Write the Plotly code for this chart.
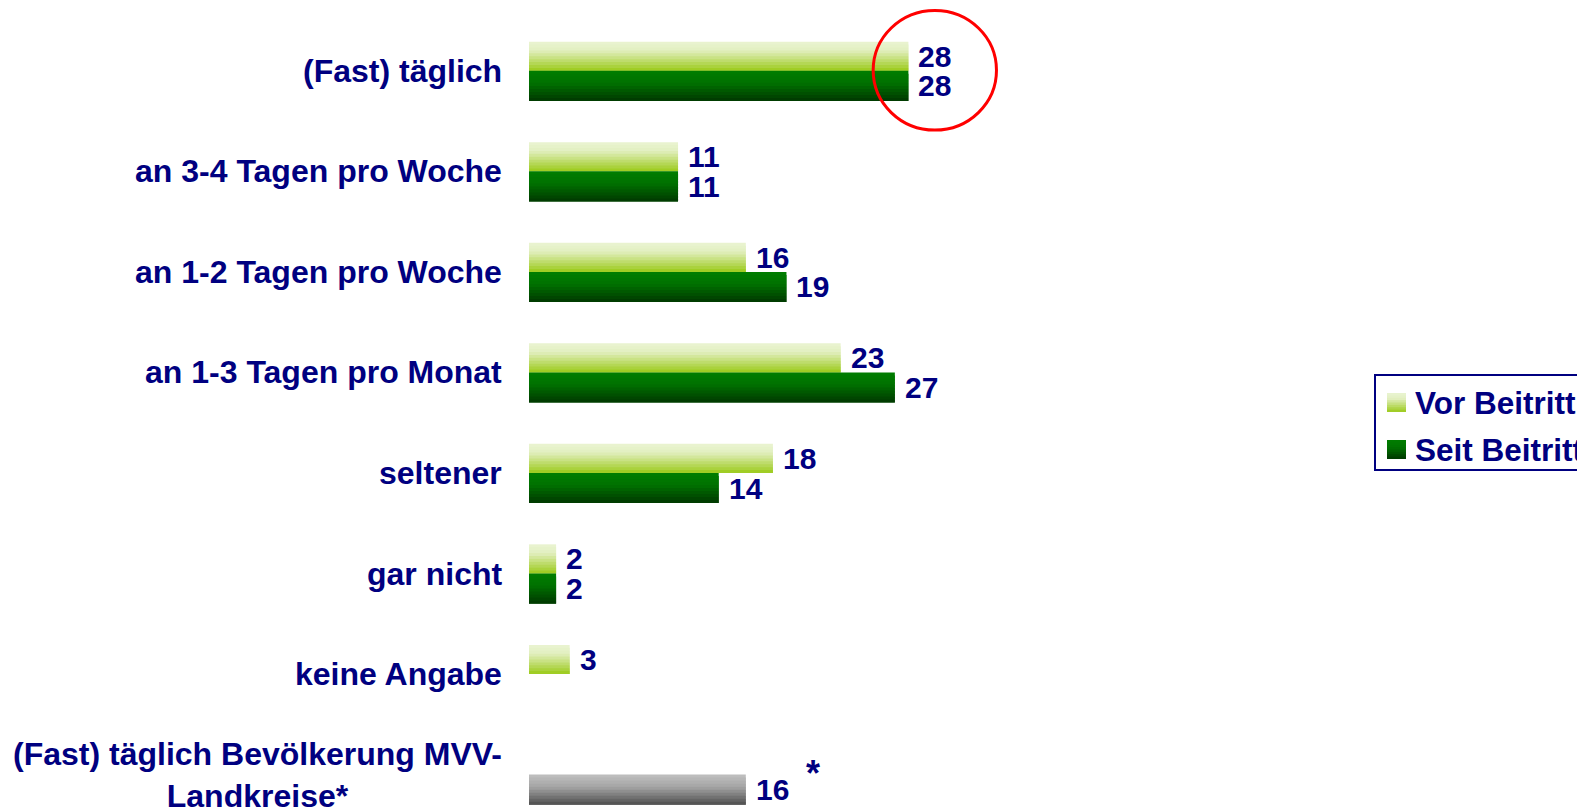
import plotly.graph_objects as go

# ---- data ----
categories = [
    "(Fast) täglich",
    "an 3-4 Tagen pro Woche",
    "an 1-2 Tagen pro Woche",
    "an 1-3 Tagen pro Monat",
    "seltener",
    "gar nicht",
    "keine Angabe",
    "(Fast) täglich Bevölkerung MVV-<br>Landkreise*",
]
vor_beitritt = [28, 11, 16, 23, 18, 2, 3, None]
seit_beitritt = [28, 11, 19, 27, 14, 2, None, None]
bevoelkerung = [None, None, None, None, None, None, None, 16]
series_names = ["Vor Beitritt", "Seit Beitritt"]

NAVY = "#000080"
FONT = "Arial, Liberation Sans, sans-serif"

positions = list(range(len(categories)))

# gradient colour stops (top -> bottom)
light_stops = [(0.0, (234, 244, 210)), (0.3, (226, 239, 192)), (1.0, (155, 202, 25))]
dark_stops = [(0.0, (0, 125, 0)), (0.4, (0, 114, 0)), (1.0, (0, 55, 0))]
grey_stops = [(0.0, (192, 192, 192)), (0.4, (165, 165, 165)), (1.0, (78, 78, 78))]


def interp(stops, t):
    for (t0, c0), (t1, c1) in zip(stops[:-1], stops[1:]):
        if t <= t1:
            f = (t - t0) / (t1 - t0) if t1 > t0 else 0
            return "rgb(%d,%d,%d)" % tuple(round(a + (b - a) * f) for a, b in zip(c0, c1))
    return "rgb(%d,%d,%d)" % stops[-1][1]


N = 10
H_LIGHT = 0.29
H_DARK = 0.30

# page offset of the plot div (browser default body margin)
OFF = 8
FIG_W, FIG_H = 1585 - OFF, 809 - OFF
LEFT = 529 - OFF
W_PLOT = FIG_W - LEFT
PX_PER_UNIT = 13.55
ROW_PX = 100.54
ROW0_PX = 70.8 - OFF

fig = go.Figure()


def add_gradient_bars(values, stops, start, height, name):
    step = height / N
    for k in range(N):
        t = (k + 0.5) / N
        w = step * 2 if k < N - 1 else step
        fig.add_trace(go.Bar(
            x=values, y=positions, orientation="h",
            offset=start + k * step, width=w,
            marker=dict(color=interp(stops, t), line=dict(width=0)),
            name=name, showlegend=False, hoverinfo="x",
        ))


add_gradient_bars(vor_beitritt, light_stops, -H_LIGHT, H_LIGHT, series_names[0])
add_gradient_bars(seit_beitritt, dark_stops, 0.0, H_DARK, series_names[1])
add_gradient_bars(bevoelkerung, grey_stops, 0.0, H_DARK, "Bevölkerung MVV-Landkreise")

annotations = []
# value labels
for vals, dy in ((vor_beitritt, -H_LIGHT / 2), (seit_beitritt, H_DARK / 2), (bevoelkerung, H_DARK / 2)):
    for p, v in zip(positions, vals):
        if v is None:
            continue
        annotations.append(dict(
            x=v, y=p + dy, xref="x", yref="y", text=str(v), showarrow=False,
            xanchor="left", yanchor="middle", xshift=8,
            font=dict(family=FONT, size=30, color=NAVY, weight="bold"),
        ))

# asterisk next to the population bar
annotations.append(dict(
    x=bevoelkerung[-1], y=positions[-1], xref="x", yref="y", text="*", showarrow=False,
    xanchor="left", yanchor="middle", xshift=58, yshift=1,
    font=dict(family=FONT, size=36, color=NAVY, weight="bold"),
))

# category labels
for p, c in zip(positions, categories):
    annotations.append(dict(
        x=0, y=p, xref="paper", yref="y", text=c, showarrow=False,
        xanchor="right", yanchor="middle", xshift=-25, align="center",
        font=dict(family=FONT, size=32, color=NAVY, weight="bold"),
    ))

shapes = []
# red highlight circle around the first group
shapes.append(dict(type="circle", xref="x", yref="y",
                   x0=vor_beitritt[0] - 2.6, x1=vor_beitritt[0] + 6.5,
                   y0=-0.6, y1=0.59, line=dict(color="#FF0000", width=3)))


def px_x(px):  # page pixel -> paper x
    return (px - OFF - LEFT) / W_PLOT


def px_y(py):  # page pixel -> paper y
    return 1 - (py - OFF) / FIG_H


# legend box
shapes.append(dict(type="rect", xref="paper", yref="paper",
                   x0=px_x(1375), x1=px_x(1600), y0=px_y(470), y1=px_y(375),
                   line=dict(color=NAVY, width=2), fillcolor="white", layer="below"))
for i, (nm, stops) in enumerate(zip(series_names, (light_stops, dark_stops))):
    top = 393 + i * 47
    M = 8
    for k in range(M):
        y_bot = top + min((k + 2) * 19 / M, 19)
        shapes.append(dict(type="rect", xref="paper", yref="paper",
                           x0=px_x(1387), x1=px_x(1406),
                           y0=px_y(y_bot), y1=px_y(top + k * 19 / M),
                           line=dict(width=0), fillcolor=interp(stops, (k + 0.5) / M)))
    annotations.append(dict(
        x=px_x(1413), y=px_y(top + 9.5), xref="paper", yref="paper", text=nm,
        showarrow=False, xanchor="left", yanchor="middle",
        font=dict(family=FONT, size=31.5, color=NAVY, weight="bold"),
    ))

fig.update_layout(
    width=FIG_W, height=FIG_H,
    margin=dict(l=LEFT, r=0, t=0, b=0, autoexpand=False),
    paper_bgcolor="white", plot_bgcolor="white",
    barmode="overlay", showlegend=False,
    xaxis=dict(range=[0, W_PLOT / PX_PER_UNIT], visible=False, fixedrange=True),
    yaxis=dict(range=[(FIG_H - ROW0_PX) / ROW_PX, -ROW0_PX / ROW_PX], visible=False,
               tickvals=positions, fixedrange=True),
    annotations=annotations, shapes=shapes,
)

fig.write_html("out.html")
